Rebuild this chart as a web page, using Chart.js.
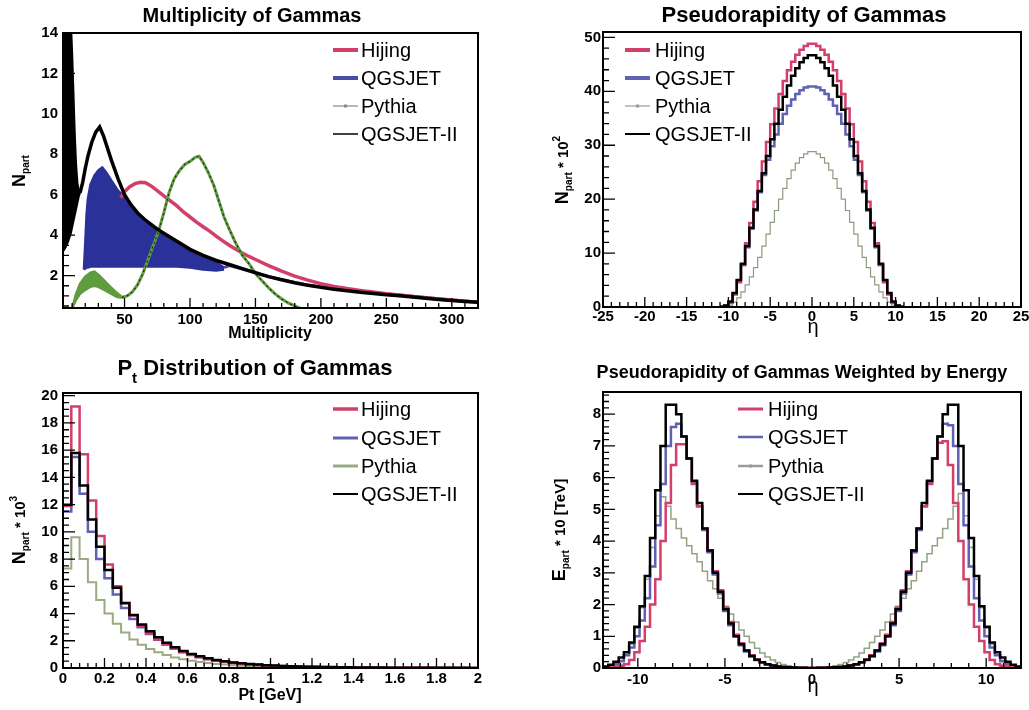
<!DOCTYPE html>
<html>
<head>
<meta charset="utf-8">
<script src="https://cdn.jsdelivr.net/npm/chart.js@4.4.1/dist/chart.umd.min.js"></script>
<style>
  html, body { margin: 0; padding: 0; background: #fff; }
  #page { position: relative; width: 1029px; height: 710px; background: #fff; overflow: hidden; }
  canvas { position: absolute; }
</style>
</head>
<body>
<div id="page">
  <canvas id="cMult" width="514" height="355" style="left:0;top:0;width:514px;height:355px"></canvas>
  <canvas id="cEta" width="515" height="355" style="left:514px;top:0;width:515px;height:355px"></canvas>
  <canvas id="cPt" width="514" height="355" style="left:0;top:355px;width:514px;height:355px"></canvas>
  <canvas id="cEtaE" width="515" height="355" style="left:514px;top:355px;width:515px;height:355px"></canvas>
</div>
<script>
// ---------- series names ----------
const seriesNames = ['Hijing', 'QGSJET', 'Pythia', 'QGSJET-II'];

// ---------- Multiplicity of Gammas ----------
const multXTicks = [50, 100, 150, 200, 250, 300];
const multXLabels = ['50', '100', '150', '200', '250', '300'];
const multYTicks = [2, 4, 6, 8, 10, 12, 14];
const multYLabels = ['2', '4', '6', '8', '10', '12', '14'];
// QGSJET-II: odd/even band at low multiplicity, then single curve
const multQ2BandX  = [3, 5, 7, 9, 10, 11, 12, 13, 14, 15, 16];
const multQ2BandHi = [14.6, 14.6, 14.6, 14.6, 13.0, 11.0, 9.0, 7.5, 6.6, 6.2, 6.1];
const multQ2BandLo = [3.2, 3.4, 3.7, 4.1, 4.4, 4.7, 5.0, 5.3, 5.6, 5.9, 6.1];
const multQ2X = [16, 18, 20, 22, 25, 28, 31, 34, 37, 40, 45, 50, 55, 60, 65, 70, 75, 80, 90, 100,
                 110, 120, 130, 140, 150, 160, 170, 180, 190, 200, 210, 220, 230, 240, 250, 260, 270, 280, 290, 300, 310, 320];
const multQ2Y = [6.1, 6.6, 7.3, 7.9, 8.6, 9.1, 9.35, 8.9, 8.3, 7.7, 6.8, 6.0, 5.5, 5.1, 4.8, 4.55, 4.3, 4.1, 3.7, 3.3,
                 3.0, 2.75, 2.55, 2.35, 2.15, 1.95, 1.8, 1.65, 1.52, 1.42, 1.33, 1.25, 1.18, 1.12, 1.05, 1.0, 0.94, 0.88, 0.82, 0.77, 0.72, 0.68];
// QGSJET: odd/even band, then single curve
const multQgsBandX  = [19, 20, 21, 22, 24, 27, 30, 33, 36, 40, 45, 50, 60, 70, 80, 90, 100, 110, 120, 126];
const multQgsBandHi = [2.3, 3.6, 5.0, 5.8, 6.5, 6.95, 7.2, 7.35, 7.1, 6.7, 6.2, 5.9, 5.0, 4.45, 4.0, 3.6, 3.2, 2.9, 2.65, 2.4];
const multQgsBandLo = [2.3, 2.35, 2.4, 2.4, 2.45, 2.45, 2.45, 2.45, 2.45, 2.45, 2.45, 2.45, 2.45, 2.45, 2.45, 2.45, 2.4, 2.3, 2.25, 2.3];
const multQgsX = [126, 130, 140, 150, 160, 170, 180, 190, 200, 220, 240, 260, 280, 300, 320];
const multQgsY = [2.4, 2.5, 2.32, 2.13, 1.95, 1.8, 1.66, 1.54, 1.45, 1.29, 1.16, 1.04, 0.92, 0.8, 0.7];
// Hijing
const multHijX = [47, 50, 54, 58, 62, 66, 70, 75, 80, 85, 90, 95, 100, 105, 110, 115, 120, 125, 130, 135,
                  140, 145, 150, 160, 170, 180, 190, 200, 210, 220, 230, 240, 250, 260, 270, 280, 290, 300, 310, 320];
const multHijY = [5.85, 6.15, 6.4, 6.55, 6.62, 6.6, 6.45, 6.2, 5.95, 5.7, 5.45, 5.15, 4.9, 4.65, 4.42, 4.2, 3.95, 3.72, 3.5, 3.3,
                  3.12, 2.95, 2.8, 2.5, 2.22, 1.98, 1.78, 1.6, 1.47, 1.36, 1.27, 1.19, 1.11, 1.04, 0.97, 0.91, 0.85, 0.79, 0.74, 0.69];
// Pythia: odd/even band, then single curve
const multPytBandX  = [10, 13, 16, 20, 24, 27, 30, 33, 36, 40, 44, 48];
const multPytBandHi = [0.4, 1.1, 1.6, 1.95, 2.15, 2.2, 2.05, 1.85, 1.65, 1.4, 1.15, 0.95];
const multPytBandLo = [0.4, 0.8, 1.1, 1.3, 1.45, 1.5, 1.45, 1.35, 1.25, 1.1, 0.95, 0.9];
const multPytX = [48, 52, 56, 60, 64, 68, 72, 76, 80, 84, 88, 92, 96, 100, 104, 107, 110, 114, 118, 122,
                  126, 130, 135, 140, 145, 150, 155, 160, 165, 170, 175, 180, 185, 190];
const multPytY = [0.92, 1.0, 1.2, 1.55, 2.1, 2.8, 3.5, 4.2, 5.1, 6.1, 6.8, 7.2, 7.5, 7.65, 7.85, 7.9, 7.6, 7.1, 6.5, 5.7,
                  4.9, 4.3, 3.6, 3.0, 2.6, 2.1, 1.75, 1.4, 1.1, 0.85, 0.65, 0.5, 0.37, 0.28];

// ---------- Pseudorapidity of Gammas (bins of 0.5 from -11) ----------
const etaXTicks = [-25, -20, -15, -10, -5, 0, 5, 10, 15, 20, 25];
const etaXLabels = ['-25', '-20', '-15', '-10', '-5', '0', '5', '10', '15', '20', '25'];
const etaYTicks = [0, 10, 20, 30, 40, 50];
const etaYLabels = ['0', '10', '20', '30', '40', '50'];
const etaBinStart = -11, etaBinWidth = 0.5;
const etaHij = [0.03, 0.2, 0.8, 2.3, 4.6, 7.8, 11.8, 15.6, 19.5, 23.3, 27.0, 30.6, 33.9, 36.8, 39.5, 41.9, 43.9, 45.5, 46.8, 47.7, 48.4, 48.8,
                48.8, 48.4, 47.7, 46.8, 45.5, 43.9, 41.9, 39.5, 36.8, 33.9, 30.6, 27.0, 23.3, 19.5, 15.6, 11.8, 7.8, 4.6, 2.3, 0.8, 0.2, 0.03];
const etaQgs = [0.04, 0.25, 0.9, 2.5, 4.9, 7.8, 11.1, 14.5, 17.9, 21.3, 24.5, 27.3, 29.8, 32.0, 34.0, 35.8, 37.3, 38.5, 39.5, 40.2, 40.7, 40.9,
                40.9, 40.7, 40.2, 39.5, 38.5, 37.3, 35.8, 34.0, 32.0, 29.8, 27.3, 24.5, 21.3, 17.9, 14.5, 11.1, 7.8, 4.9, 2.5, 0.9, 0.25, 0.04];
const etaPyt = [0.02, 0.1, 0.35, 0.9, 1.7, 2.8, 4.1, 5.6, 7.3, 9.2, 11.3, 13.5, 15.7, 17.9, 20.0, 22.0, 23.8, 25.4, 26.7, 27.7, 28.4, 28.8,
                28.8, 28.4, 27.7, 26.7, 25.4, 23.8, 22.0, 20.0, 17.9, 15.7, 13.5, 11.3, 9.2, 7.3, 5.6, 4.1, 2.8, 1.7, 0.9, 0.35, 0.1, 0.02];
const etaQ2  = [0.05, 0.3, 1.0, 2.6, 5.0, 8.0, 11.3, 14.7, 18.1, 21.5, 24.8, 28.0, 31.1, 34.0, 36.6, 39.0, 41.1, 42.9, 44.3, 45.4, 46.2, 46.7,
                46.7, 46.2, 45.4, 44.3, 42.9, 41.1, 39.0, 36.6, 34.0, 31.1, 28.0, 24.8, 21.5, 18.1, 14.7, 11.3, 8.0, 5.0, 2.6, 1.0, 0.3, 0.05];

// ---------- Pt distribution (bins of 0.04 GeV from 0) ----------
const ptXTicks = [0, 0.2, 0.4, 0.6, 0.8, 1, 1.2, 1.4, 1.6, 1.8, 2];
const ptXLabels = ['0', '0.2', '0.4', '0.6', '0.8', '1', '1.2', '1.4', '1.6', '1.8', '2'];
const ptYTicks = [0, 2, 4, 6, 8, 10, 12, 14, 16, 18, 20];
const ptYLabels = ['0', '2', '4', '6', '8', '10', '12', '14', '16', '18', '20'];
const ptBinStart = 0, ptBinWidth = 0.04;
const ptHij = [11.9, 19.2, 15.7, 12.3, 9.7, 7.6, 6.0, 4.8, 3.85, 3.1, 2.55, 2.1, 1.72, 1.42, 1.16, 0.95, 0.79, 0.65, 0.54, 0.45,
               0.37, 0.31, 0.26, 0.22, 0.18, 0.15, 0.13, 0.11, 0.09, 0.08, 0.068, 0.058, 0.05, 0.043, 0.037, 0.032, 0.028, 0.024, 0.021, 0.018,
               0.016, 0.014, 0.012, 0.011, 0.01, 0.009, 0.008, 0.007, 0.006, 0.005];
const ptQgs = [11.5, 15.5, 12.8, 10.0, 8.0, 6.6, 5.4, 4.4, 3.6, 3.0, 2.5, 2.08, 1.72, 1.42, 1.17, 0.97, 0.8, 0.67, 0.56, 0.47,
               0.39, 0.33, 0.28, 0.24, 0.2, 0.17, 0.145, 0.125, 0.107, 0.093, 0.081, 0.07, 0.061, 0.053, 0.046, 0.04, 0.035, 0.031, 0.027, 0.024,
               0.021, 0.018, 0.016, 0.014, 0.012, 0.011, 0.01, 0.009, 0.008, 0.007];
const ptPyt = [7.3, 9.6, 8.0, 6.3, 5.0, 4.0, 3.25, 2.6, 2.1, 1.7, 1.4, 1.15, 0.95, 0.78, 0.64, 0.53, 0.44, 0.36, 0.3, 0.25,
               0.21, 0.17, 0.14, 0.12, 0.1, 0.085, 0.07, 0.06, 0.05, 0.042, 0.036, 0.03, 0.026, 0.022, 0.019, 0.016, 0.014, 0.012, 0.01, 0.009,
               0.008, 0.007, 0.006, 0.005, 0.005, 0.004, 0.004, 0.003, 0.003, 0.003];
const ptQ2  = [12.0, 15.8, 13.4, 10.9, 8.9, 7.2, 5.9, 4.75, 3.9, 3.2, 2.7, 2.25, 1.85, 1.52, 1.25, 1.03, 0.86, 0.71, 0.59, 0.49,
               0.41, 0.34, 0.29, 0.25, 0.21, 0.18, 0.155, 0.135, 0.115, 0.1, 0.088, 0.077, 0.067, 0.058, 0.051, 0.045, 0.04, 0.035, 0.031, 0.027,
               0.024, 0.021, 0.019, 0.017, 0.015, 0.013, 0.012, 0.011, 0.01, 0.009];

// ---------- Pseudorapidity weighted by energy (bins of 0.3 from -12) ----------
const etaEXTicks = [-10, -5, 0, 5, 10];
const etaEXLabels = ['-10', '-5', '0', '5', '10'];
const etaEYTicks = [0, 1, 2, 3, 4, 5, 6, 7, 8];
const etaEYLabels = ['0', '1', '2', '3', '4', '5', '6', '7', '8'];
const etaEBinStart = -12, etaEBinWidth = 0.3;
const etaEHij = [0.01, 0.02, 0.04, 0.07, 0.12, 0.25, 0.5, 0.85, 1.3, 2.0, 2.8, 4.0, 5.2, 6.4, 7.05, 7.05, 6.6, 5.8, 5.1, 4.4,
                 3.7, 3.05, 2.45, 1.9, 1.45, 1.05, 0.78, 0.56, 0.4, 0.27, 0.18, 0.12, 0.08, 0.05, 0.03, 0.02, 0.012, 0.007, 0.004, 0.003,
                 0.003, 0.004, 0.007, 0.012, 0.02, 0.03, 0.05, 0.08, 0.12, 0.18, 0.27, 0.4, 0.56, 0.78, 1.05, 1.45, 1.9, 2.45, 3.05, 3.7,
                 4.4, 5.1, 5.8, 6.6, 7.1, 7.15, 6.4, 5.2, 4.0, 2.8, 2.0, 1.3, 0.85, 0.5, 0.25, 0.12, 0.07, 0.04, 0.02, 0.01];
const etaEQgs = [0.03, 0.06, 0.12, 0.22, 0.4, 0.65, 1.0, 1.5, 2.2, 3.2, 4.5, 5.8, 7.0, 7.6, 7.7, 7.3, 6.6, 5.85, 5.1, 4.35,
                 3.65, 2.95, 2.35, 1.8, 1.35, 1.0, 0.72, 0.52, 0.36, 0.25, 0.17, 0.11, 0.07, 0.045, 0.028, 0.018, 0.01, 0.006, 0.004, 0.003,
                 0.003, 0.004, 0.006, 0.01, 0.018, 0.028, 0.045, 0.07, 0.11, 0.17, 0.25, 0.36, 0.52, 0.72, 1.0, 1.35, 1.8, 2.35, 2.95, 3.65,
                 4.35, 5.1, 5.85, 6.6, 7.3, 7.7, 7.65, 7.0, 5.8, 4.5, 3.2, 2.2, 1.5, 1.0, 0.65, 0.4, 0.22, 0.12, 0.06, 0.03];
const etaEPyt = [0.02, 0.05, 0.1, 0.2, 0.4, 0.75, 1.25, 1.9, 2.8, 3.8, 4.8, 5.4, 5.1, 4.7, 4.4, 4.1, 3.85, 3.6, 3.35, 3.05,
                 2.75, 2.5, 2.2, 1.95, 1.7, 1.45, 1.2, 1.0, 0.8, 0.62, 0.47, 0.35, 0.25, 0.17, 0.11, 0.07, 0.04, 0.02, 0.01, 0.005,
                 0.005, 0.01, 0.02, 0.04, 0.07, 0.11, 0.17, 0.25, 0.35, 0.47, 0.62, 0.8, 1.0, 1.2, 1.45, 1.7, 1.95, 2.2, 2.5, 2.75,
                 3.05, 3.35, 3.6, 3.85, 4.1, 4.4, 4.7, 5.1, 5.5, 4.8, 3.8, 2.8, 1.9, 1.25, 0.75, 0.4, 0.2, 0.1, 0.05, 0.02];
const etaEQ2  = [0.05, 0.1, 0.2, 0.33, 0.5, 0.8, 1.3, 1.95, 2.9, 4.1, 5.6, 7.0, 8.3, 8.3, 8.0, 7.3, 6.6, 5.9, 5.2, 4.4,
                 3.7, 3.0, 2.4, 1.85, 1.4, 1.0, 0.75, 0.55, 0.38, 0.26, 0.18, 0.12, 0.08, 0.05, 0.03, 0.02, 0.012, 0.007, 0.004, 0.003,
                 0.003, 0.004, 0.007, 0.012, 0.02, 0.03, 0.05, 0.08, 0.12, 0.18, 0.26, 0.38, 0.55, 0.75, 1.0, 1.4, 1.85, 2.4, 3.0, 3.7,
                 4.4, 5.2, 5.9, 6.6, 7.3, 8.0, 8.3, 8.3, 7.0, 5.6, 4.1, 2.9, 1.95, 1.3, 0.8, 0.5, 0.33, 0.2, 0.1, 0.05];

// ---------- styling ----------
const FAMILY = '"Liberation Sans", Arial, Helvetica, sans-serif';
const RED = '#d43f6a';
const BLUE = '#5f62b3';
const BLUE_DARK = '#2a3299';
const GREEN = '#5f9c3f';
const font = (size, bold) => (bold ? 'bold ' : '') + size + 'px ' + FAMILY;

// point helpers
const pts = (xs, ys) => xs.map((x, i) => ({ x: x, y: ys[i] }));
function histPts(start, width, vals) {
  const p = vals.map((v, i) => ({ x: start + i * width, y: v }));
  p.push({ x: start + vals.length * width, y: vals[vals.length - 1] });
  return p;
}

// text with sub/superscripts, centred on (x, baseline y), optionally rotated
function drawRich(ctx, parts, x, y, rot) {
  ctx.save();
  ctx.translate(x, y);
  if (rot) ctx.rotate(rot);
  ctx.textAlign = 'left';
  ctx.textBaseline = 'alphabetic';
  let total = 0;
  parts.forEach(p => { ctx.font = font(p.s, p.b); p.w = ctx.measureText(p.t).width; total += p.w; });
  let cx = -total / 2;
  parts.forEach(p => { ctx.font = font(p.s, p.b); ctx.fillText(p.t, cx, p.dy || 0); cx += p.w; });
  ctx.restore();
}

// frame box and inward tick marks
const rootFrame = {
  id: 'rootFrame',
  afterDatasetsDraw(chart, args, o) {
    const ctx = chart.ctx, a = chart.chartArea;
    const sx = chart.scales.x, sy = chart.scales.y;
    ctx.save();
    ctx.strokeStyle = '#000';
    ctx.lineWidth = 1.3;
    ctx.beginPath();
    const steps = (scale, step) => {
      const out = [];
      const k0 = Math.ceil(scale.min / step - 1e-6), k1 = Math.floor(scale.max / step + 1e-6);
      for (let k = k0; k <= k1; k++) out.push(k * step);
      return out;
    };
    steps(sx, o.xMinor).forEach(v => { const p = sx.getPixelForValue(v); ctx.moveTo(p, a.bottom); ctx.lineTo(p, a.bottom - 5); });
    o.xMajor.forEach(v => { const p = sx.getPixelForValue(v); ctx.moveTo(p, a.bottom); ctx.lineTo(p, a.bottom - 10); });
    steps(sy, o.yMinor).forEach(v => { const p = sy.getPixelForValue(v); ctx.moveTo(a.left, p); ctx.lineTo(a.left + 6, p); });
    o.yMajor.forEach(v => { const p = sy.getPixelForValue(v); ctx.moveTo(a.left, p); ctx.lineTo(a.left + 12, p); });
    ctx.stroke();
    ctx.lineWidth = 2;
    ctx.strokeRect(a.left, a.top, a.right - a.left, a.bottom - a.top);
    ctx.restore();
  }
};

// titles, axis titles and in-frame legend
const rootText = {
  id: 'rootText',
  afterDraw(chart, args, o) {
    const ctx = chart.ctx;
    ctx.save();
    ctx.fillStyle = '#000';
    o.texts.forEach(t => drawRich(ctx, t.parts, t.x, t.y, t.rot || 0));
    const L = o.legend;
    L.items.forEach((it, i) => {
      const y = L.y[i];
      ctx.save();
      ctx.strokeStyle = it.c;
      ctx.lineWidth = it.w;
      ctx.beginPath(); ctx.moveTo(L.x0, y); ctx.lineTo(L.x1, y); ctx.stroke();
      if (it.dot) { ctx.fillStyle = it.c; ctx.fillRect((L.x0 + L.x1) / 2 - 1.5, y - 1.5, 3, 3); }
      ctx.restore();
      ctx.font = font(20, false);
      ctx.textAlign = 'left';
      ctx.textBaseline = 'middle';
      ctx.fillStyle = '#000';
      ctx.fillText(seriesNames[i], L.tx, y + 1);
    });
    ctx.restore();
  }
};

function line(data, color, width, extra) {
  return Object.assign({ data: data, borderColor: color, backgroundColor: color, borderWidth: width,
    pointRadius: 0, pointHitRadius: 0, tension: 0, fill: false, clip: 1,
    borderJoinStyle: 'miter', borderCapStyle: 'butt' }, extra || {});
}

function makeChart(id, c) {
  return new Chart(document.getElementById(id), {
    type: 'line',
    data: { datasets: c.datasets },
    options: {
      responsive: false, animation: false, devicePixelRatio: 1, events: [],
      layout: { padding: { left: 0, top: c.area.top, right: c.area.right, bottom: 0 } },
      plugins: { legend: { display: false }, tooltip: { enabled: false }, title: { display: false },
                 rootFrame: c.frame, rootText: c.text },
      scales: {
        x: {
          type: 'linear', position: 'bottom', min: c.x.min, max: c.x.max,
          grid: { display: false, drawTicks: false }, border: { display: false },
          afterBuildTicks: s => { s.ticks = c.x.ticks.map(v => ({ value: v })); },
          afterFit: s => { s.height = c.area.xh; s.paddingLeft = 0; s.paddingRight = 0; },
          ticks: { autoSkip: false, maxRotation: 0, minRotation: 0, padding: c.x.pad, color: '#000',
                   font: { family: FAMILY, size: 15, weight: 'bold' }, callback: (v, i) => c.x.labels[i] }
        },
        y: {
          type: 'linear', position: 'left', min: c.y.min, max: c.y.max,
          grid: { display: false, drawTicks: false }, border: { display: false },
          afterBuildTicks: s => { s.ticks = c.y.ticks.map(v => ({ value: v })); },
          afterFit: s => { s.width = c.area.yw; s.paddingTop = 0; s.paddingBottom = 0; },
          ticks: { autoSkip: false, padding: c.y.pad, color: '#000',
                   font: { family: FAMILY, size: 15, weight: 'bold' }, callback: (v, i) => c.y.labels[i] }
        }
      }
    },
    plugins: [rootFrame, rootText]
  });
}

const R90 = -Math.PI / 2;

// ---------- Multiplicity of Gammas ----------
makeChart('cMult', {
  area: { top: 33, right: 36, yw: 63, xh: 47 },
  x: { min: 3, max: 320, ticks: multXTicks, labels: multXLabels, pad: 3 },
  y: { min: 0.4, max: 14, ticks: multYTicks, labels: multYLabels, pad: 5 },
  frame: { xMajor: multXTicks, xMinor: 10, yMajor: multYTicks, yMinor: 0.5 },
  datasets: [
    line(pts(multQ2X, multQ2Y), '#000', 3.5),
    line(pts(multQ2BandX, multQ2BandHi), '#000', 2, { fill: '+1', backgroundColor: '#000' }),
    line(pts(multQ2BandX, multQ2BandLo), '#000', 2),
    line(pts(multPytX, multPytY), '#1e2a18', 1.2, { borderDash: [2, 3] }),
    line(pts(multPytX, multPytY), GREEN, 3),
    line(pts(multPytBandX, multPytBandHi), GREEN, 2.5, { fill: '+1', backgroundColor: GREEN }),
    line(pts(multPytBandX, multPytBandLo), GREEN, 2.5),
    line(pts(multHijX, multHijY), RED, 3.5),
    line(pts(multQgsBandX, multQgsBandHi), BLUE_DARK, 2.5, { fill: '+1', backgroundColor: BLUE_DARK }),
    line(pts(multQgsBandX, multQgsBandLo), BLUE_DARK, 2.5),
    line(pts(multQgsX, multQgsY), '#4a4ea8', 3)
  ],
  text: {
    texts: [
      { x: 252, y: 22, parts: [{ t: 'Multiplicity of Gammas', s: 20, b: true }] },
      { x: 270, y: 338, parts: [{ t: 'Multiplicity', s: 16, b: true }] },
      { x: 25, y: 171, rot: R90, parts: [{ t: 'N', s: 18, b: true }, { t: 'part', s: 10, b: true, dy: 4 }] }
    ],
    legend: { x0: 333, x1: 358, tx: 361, y: [50, 78, 106, 134],
      items: [{ c: RED, w: 4 }, { c: '#4a4ea8', w: 4 }, { c: '#888', w: 1.2, dot: true }, { c: '#000', w: 1.5 }] }
  }
});

// ---------- Pseudorapidity of Gammas ----------
makeChart('cEta', {
  area: { top: 32, right: 8, yw: 89, xh: 48 },
  x: { min: -25, max: 25, ticks: etaXTicks, labels: etaXLabels, pad: 1 },
  y: { min: 0, max: 51, ticks: etaYTicks, labels: etaYLabels, pad: 2 },
  frame: { xMajor: etaXTicks, xMinor: 1, yMajor: etaYTicks, yMinor: 2 },
  datasets: [
    line(histPts(etaBinStart, etaBinWidth, etaQ2), '#000', 2.5, { stepped: 'before' }),
    line(histPts(etaBinStart, etaBinWidth, etaHij), RED, 2.5, { stepped: 'before' }),
    line(histPts(etaBinStart, etaBinWidth, etaQgs), BLUE, 2.5, { stepped: 'before' }),
    line(histPts(etaBinStart, etaBinWidth, etaPyt), '#8d9c80', 1.2, { stepped: 'before' })
  ],
  text: {
    texts: [
      { x: 290, y: 22, parts: [{ t: 'Pseudorapidity of Gammas', s: 22, b: true }] },
      { x: 299, y: 333, parts: [{ t: 'η', s: 20, b: false }] },
      { x: 54, y: 170, rot: R90, parts: [{ t: 'N', s: 18, b: true }, { t: 'part', s: 10, b: true, dy: 4 },
        { t: ' * 10', s: 15, b: true }, { t: '2', s: 10, b: true, dy: -8 }] }
    ],
    legend: { x0: 111, x1: 136, tx: 141, y: [50, 78, 106, 134],
      items: [{ c: RED, w: 4 }, { c: BLUE, w: 4 }, { c: '#999', w: 1.2, dot: true }, { c: '#000', w: 2 }] }
  }
});

// ---------- Pt Distribution of Gammas ----------
makeChart('cPt', {
  area: { top: 38, right: 36, yw: 63, xh: 42 },
  x: { min: 0, max: 2, ticks: ptXTicks, labels: ptXLabels, pad: 2 },
  y: { min: 0, max: 20.2, ticks: ptYTicks, labels: ptYLabels, pad: 5 },
  frame: { xMajor: ptXTicks, xMinor: 0.04, yMajor: ptYTicks, yMinor: 0.5 },
  datasets: [
    line(histPts(ptBinStart, ptBinWidth, ptQ2), '#000', 2.5, { stepped: 'before' }),
    line(histPts(ptBinStart, ptBinWidth, ptHij), RED, 2.5, { stepped: 'before' }),
    line(histPts(ptBinStart, ptBinWidth, ptQgs), BLUE, 2.5, { stepped: 'before' }),
    line(histPts(ptBinStart, ptBinWidth, ptPyt), '#9aab82', 2, { stepped: 'before' })
  ],
  text: {
    texts: [
      { x: 255, y: 20, parts: [{ t: 'P', s: 22, b: true }, { t: 't', s: 15, b: true, dy: 8 },
        { t: ' Distribution of Gammas', s: 22, b: true }] },
      { x: 270, y: 345, parts: [{ t: 'Pt [GeV]', s: 16, b: true }] },
      { x: 25, y: 175, rot: R90, parts: [{ t: 'N', s: 18, b: true }, { t: 'part', s: 10, b: true, dy: 4 },
        { t: ' * 10', s: 15, b: true }, { t: '3', s: 10, b: true, dy: -8 }] }
    ],
    legend: { x0: 333, x1: 358, tx: 361, y: [54, 83, 111, 139],
      items: [{ c: RED, w: 3.5 }, { c: BLUE, w: 3 }, { c: '#9aab82', w: 3 }, { c: '#000', w: 2 }] }
  }
});

// ---------- Pseudorapidity of Gammas Weighted by Energy ----------
makeChart('cEtaE', {
  area: { top: 37, right: 8, yw: 89, xh: 42 },
  x: { min: -12, max: 12, ticks: etaEXTicks, labels: etaEXLabels, pad: 3 },
  y: { min: 0, max: 8.7, ticks: etaEYTicks, labels: etaEYLabels, pad: 2 },
  frame: { xMajor: etaEXTicks, xMinor: 1, yMajor: etaEYTicks, yMinor: 0.2 },
  datasets: [
    line(histPts(etaEBinStart, etaEBinWidth, etaEQ2), '#000', 2.5, { stepped: 'before' }),
    line(histPts(etaEBinStart, etaEBinWidth, etaEHij), RED, 2.5, { stepped: 'before' }),
    line(histPts(etaEBinStart, etaEBinWidth, etaEQgs), BLUE, 2.5, { stepped: 'before' }),
    line(histPts(etaEBinStart, etaEBinWidth, etaEPyt), '#93a283', 1.5, { stepped: 'before' })
  ],
  text: {
    texts: [
      { x: 288, y: 23, parts: [{ t: 'Pseudorapidity of Gammas Weighted by Energy', s: 18, b: true }] },
      { x: 299, y: 337, parts: [{ t: 'η', s: 20, b: false }] },
      { x: 51, y: 175, rot: R90, parts: [{ t: 'E', s: 18, b: true }, { t: 'part', s: 10, b: true, dy: 4 },
        { t: ' * 10 [TeV]', s: 15, b: true }] }
    ],
    legend: { x0: 224, x1: 249, tx: 254, y: [54, 82, 111, 139],
      items: [{ c: RED, w: 3 }, { c: BLUE, w: 2.5 }, { c: '#9a9a9a', w: 2.5, dot: true }, { c: '#000', w: 2 }] }
  }
});
</script>
</body>
</html>
